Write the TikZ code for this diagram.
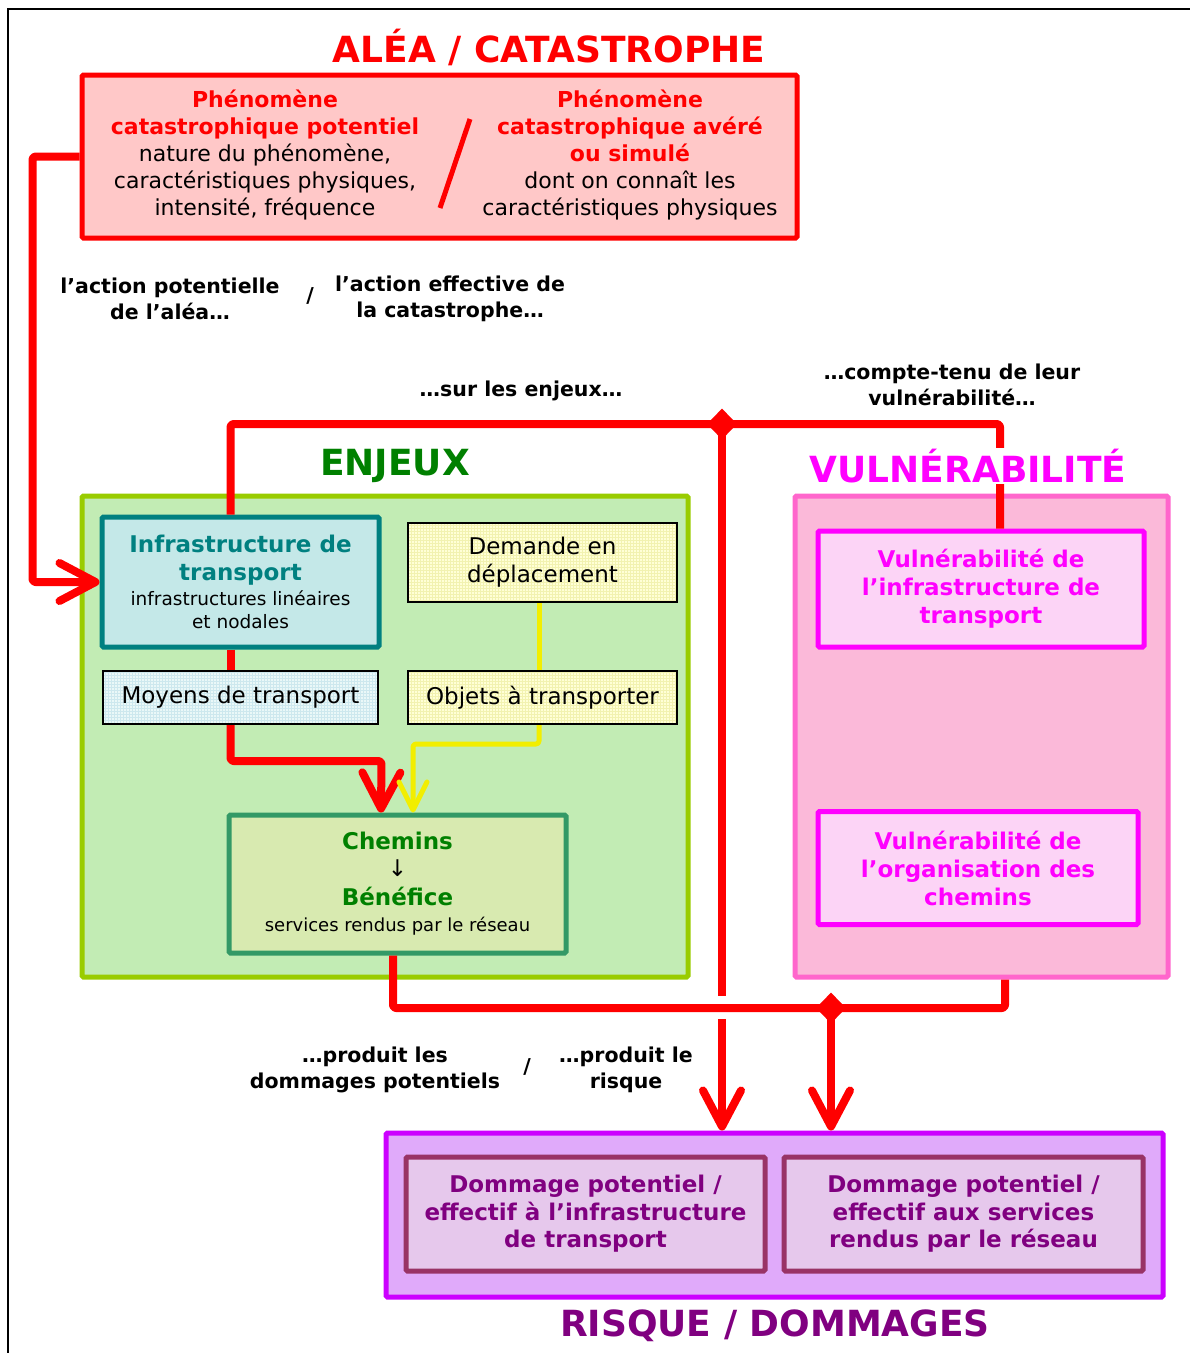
\documentclass[tikz,border=0pt]{standalone}
\usepackage{fontspec}
\setmainfont{DejaVu Sans}
\usetikzlibrary{arrows.meta,patterns,shapes.geometric}
\newcommand\fs[2]{\fontsize{#1}{#2}\selectfont}
\definecolor{cred}{HTML}{FF0000}
\definecolor{redfill}{HTML}{FFC8C8}
\definecolor{grnfill}{HTML}{C2ECB4}
\definecolor{grnline}{HTML}{99CC00}
\definecolor{teal1}{HTML}{008080}
\definecolor{infrafill}{HTML}{C4E8E8}
\definecolor{yelfill}{HTML}{FFFFD6}
\definecolor{cyanfill}{HTML}{EAF8F8}
\definecolor{chfill}{HTML}{D8EAB0}
\definecolor{chline}{HTML}{339966}
\definecolor{dgreen}{HTML}{008000}
\definecolor{pinkfill}{HTML}{FBB9D9}
\definecolor{pinkline}{HTML}{FF66CC}
\definecolor{magenta1}{HTML}{FF00FF}
\definecolor{vulfill}{HTML}{FCD4F6}
\definecolor{purfill}{HTML}{E0AAFA}
\definecolor{purline}{HTML}{CC00FF}
\definecolor{dmgfill}{HTML}{E6C8EC}
\definecolor{dmgline}{HTML}{993366}
\definecolor{dpurple}{HTML}{800080}
\definecolor{ylw}{HTML}{F2EE00}
\definecolor{ygrid}{HTML}{F2F2B0}
\definecolor{cgrid}{HTML}{CDE8EE}
\tikzset{
  box/.style={draw, line width=5pt, rounded corners=1.5pt, inner sep=0pt, align=center},
  thinbox/.style={draw=black, line width=2pt, inner sep=0pt, align=center, font=\fs{23}{28}},
  lbl/.style={font=\fs{20.5}{26}\bfseries, align=center, inner sep=0pt},
  title/.style={font=\fs{36}{40}\bfseries, inner sep=2pt},
  redln/.style={draw=cred, line width=8pt, line join=round, rounded corners=3pt},
  redarr/.style={redln, -{Straight Barb[length=36pt,width=38pt,round]}},
  ylwln/.style={draw=ylw, line width=5pt, line join=round, rounded corners=3pt},
  ylwarr/.style={ylwln, -{Straight Barb[length=28pt,width=28pt,round]}},
  junction/.style={diamond, fill=cred, aspect=1, minimum width=30pt, minimum height=31pt, inner sep=0pt},
}
\begin{document}
\begin{tikzpicture}[x=1pt,y=-1pt]
\useasboundingbox (0,0) rectangle (1190,1353);
% frame
\draw[line width=2pt] (8,1353) -- (8,9) -- (1190,9);

% top
\node[title, text=cred] (t1) at (549,47) {ALÉA / CATASTROPHE};
\node[box, draw=cred, fill=redfill, minimum width=715pt, minimum height=163pt] (alea) at (439.5,156.5) {};
\node[align=center, inner sep=0pt, font=\fs{22}{27}] (pot) at (265,155)
  {\textcolor{cred}{\bfseries Phénomène}\\\textcolor{cred}{\bfseries catastrophique potentiel}\\nature du phénomène,\\caractéristiques physiques,\\intensité, fréquence};
\node[align=center, inner sep=0pt, font=\fs{22}{27}] (eff) at (630,155)
  {\textcolor{cred}{\bfseries Phénomène}\\\textcolor{cred}{\bfseries catastrophique avéré}\\\textcolor{cred}{\bfseries ou simulé}\\dont on connaît les\\caractéristiques physiques};
\coordinate (s1) at (470,119);
\coordinate (s2) at (440,208);
\draw[cred, line width=5pt] (s1) -- (s2);

% labels
\node[lbl] (l1) at (170,299) {l’action potentielle\\de l’aléa…};
\node[lbl] (l2) at (310,296) {/};
\node[lbl] (l3) at (450,299) {l’action effective de\\la catastrophe…};
\node[lbl] (l4) at (521,391) {…sur les enjeux…};
\node[lbl] (l5) at (952,385) {…compte-tenu de leur\\vulnérabilité…};
\node[lbl] (l6) at (375,1070) {…produit les\\dommages potentiels};
\node[lbl] (l7) at (527,1067) {/};
\node[lbl] (l8) at (626,1070) {…produit le\\risque};

% enjeux
\node[title, text=dgreen] (t2) at (395,466) {ENJEUX};
\node[box, draw=grnline, fill=grnfill, minimum width=606pt, minimum height=481pt] (enj) at (385,736.5) {};
\node[box, draw=teal1, fill=infrafill, minimum width=277pt, minimum height=130pt, font=\fs{23}{28}] (infra) at (240.5,582)
  {\textcolor{teal1}{\bfseries Infrastructure de}\\\textcolor{teal1}{\bfseries transport}\\[-3pt]{\fs{18.5}{23}infrastructures linéaires}\\[-5pt]{\fs{18.5}{23}et nodales}};
\node[thinbox, preaction={fill=yelfill}, pattern=grid, pattern color=ygrid, minimum width=269pt, minimum height=79pt] (dem) at (542.5,562.5) {Demande en\\déplacement};
\node[thinbox, preaction={fill=cyanfill}, pattern=grid, pattern color=cgrid, minimum width=275pt, minimum height=53pt] (moy) at (240.5,697.5) {Moyens de transport};
\node[thinbox, preaction={fill=yelfill}, pattern=grid, pattern color=ygrid, minimum width=269pt, minimum height=53pt] (obj) at (542.5,697.5) {Objets à transporter};
\node[box, draw=chline, fill=chfill, minimum width=337pt, minimum height=138pt, font=\fs{23}{27}] (chem) at (397.5,884)
  {\textcolor{dgreen}{\bfseries Chemins}\\↓\\[2pt]\textcolor{dgreen}{\bfseries Bénéfice}\\[-1pt]{\fs{18}{22}services rendus par le réseau}};

% vulnerabilite
\node[box, draw=pinkline, fill=pinkfill, minimum width=373pt, minimum height=481pt] (vul) at (981.5,736.5) {};
\node[box, draw=magenta1, fill=vulfill, minimum width=326pt, minimum height=116pt, font=\fs{23}{28}\bfseries, text=magenta1] (vinf) at (981,589)
  {Vulnérabilité de\\l’infrastructure de\\transport};
\node[box, draw=magenta1, fill=vulfill, minimum width=320pt, minimum height=113pt, font=\fs{23}{28}\bfseries, text=magenta1] (vorg) at (978,868)
  {Vulnérabilité de\\l’organisation des\\chemins};

% risque
\node[box, draw=purline, fill=purfill, minimum width=777pt, minimum height=164pt] (risk) at (774.5,1215) {};
\node[box, draw=dmgline, fill=dmgfill, minimum width=359pt, minimum height=114pt, font=\fs{23}{27.5}\bfseries, text=dpurple] (dm1) at (585.5,1214)
  {Dommage potentiel /\\effectif à l’infrastructure\\de transport};
\node[box, draw=dmgline, fill=dmgfill, minimum width=359pt, minimum height=114pt, font=\fs{23}{27.5}\bfseries, text=dpurple] (dm2) at (963.5,1214)
  {Dommage potentiel /\\effectif aux services\\rendus par le réseau};
\node[title, text=dpurple] (t4) at (775,1326) {RISQUE / DOMMAGES};

% connectors
\coordinate (j1) at (722,424);
\coordinate (j2) at (831,1008);
\draw[redarr] (alea.west) -- ++(-47,0) |- (infra.west);
\draw[redln] ([xshift=-10pt]infra.north) |- (j1) -| ([xshift=19pt]vinf.north);
\draw[redln] ([xshift=-10pt]infra.south) -- ([xshift=-10pt]moy.north);
\draw[redarr] ([xshift=-10pt]moy.south) |- ++(151,36) -- ([xshift=-16.5pt]chem.north);
\draw[ylwln] ([xshift=-3.5pt]dem.south) -- ([xshift=-3.5pt]obj.north);
\draw[ylwarr] ([xshift=-3.5pt]obj.south) |- ++(-126,19) -- ([xshift=15.5pt]chem.north);
\draw[redarr, rounded corners=0pt] (j1) -- (j1 |- risk.north);
\draw[white, line width=8pt] (722,996) -- (722,1019);
\draw[redln] ([xshift=-4.5pt]chem.south) |- (j2) -| ([xshift=23.5pt]vul.south);
\draw[redarr, rounded corners=0pt] (j2) -- (j2 |- risk.north);
\node[junction] (d1) at (j1) {};
\node[junction] (d2) at (j2) {};

\node[title, text=magenta1, fill=white, inner sep=1pt] (t3) at (968,466) {VULNÉRABILITÉ};
\end{tikzpicture}
\end{document}
